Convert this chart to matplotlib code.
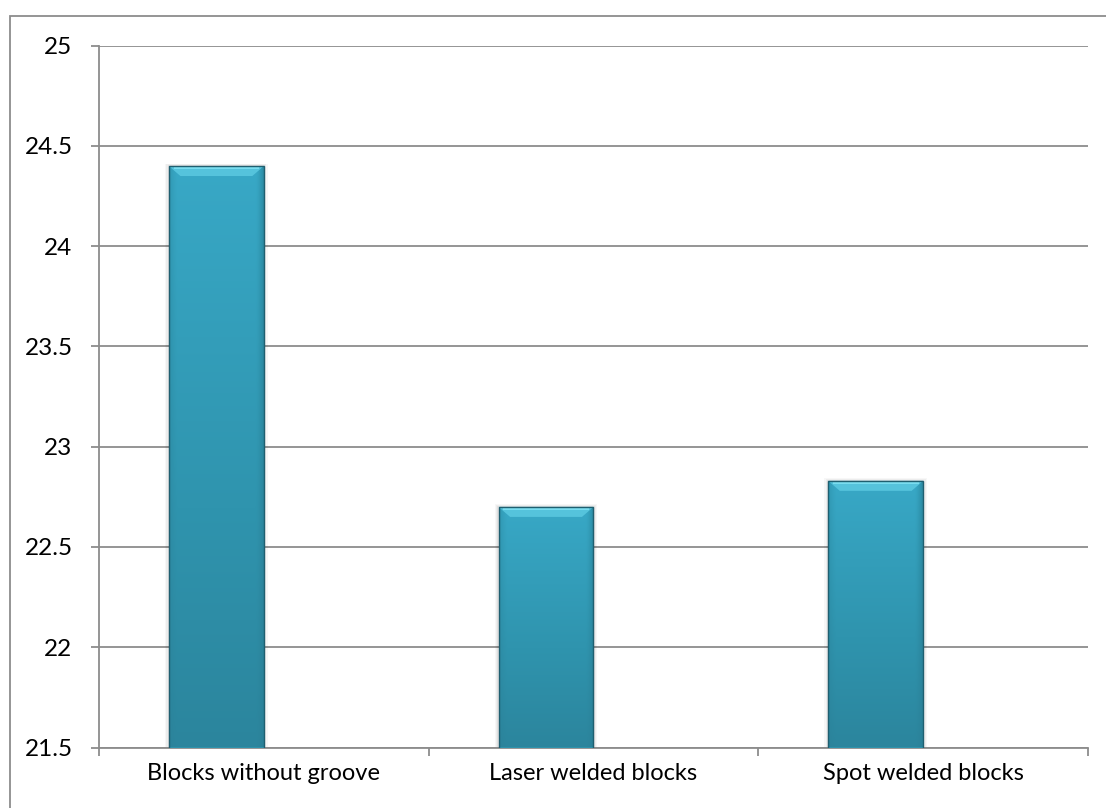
import numpy as np
import matplotlib
matplotlib.use("Agg")
import matplotlib.pyplot as plt
from matplotlib.patches import Rectangle, Polygon
from matplotlib.colors import LinearSegmentedColormap

categories = ["Blocks without groove", "Laser welded blocks", "Spot welded blocks"]
values = [24.40, 22.70, 22.83]
y_ticks = [21.5, 22, 22.5, 23, 23.5, 24, 24.5, 25]

plt.rcParams["font.family"] = ["Lato", "DejaVu Sans"]

W, H = 1106, 808
fig = plt.figure(figsize=(W / 100, H / 100), dpi=100)
fig.patch.set_facecolor("white")

# chart-area border
fig.patches.append(Rectangle((10 / W, -0.1), 1.2, 1 - 16 / H + 0.1,
                             transform=fig.transFigure, fill=False,
                             edgecolor="#8c8c8c", linewidth=1.3, zorder=0))

left, right, top, bottom = 99 / W, 1088 / W, 45.7 / H, 747.5 / H
ax = fig.add_axes([left, 1 - bottom, right - left, bottom - top])

ax.set_ylim(21.5, 25)
ax.set_xlim(-0.5, len(categories) - 0.5)
ax.set_yticks(y_ticks)
ax.set_yticklabels([f"{t:g}" for t in y_ticks])
ax.yaxis.grid(True, color="#8c8c8c", linewidth=1.3)
ax.set_axisbelow(True)

for s in ("top", "right"):
    ax.spines[s].set_visible(False)
for s in ("left", "bottom"):
    ax.spines[s].set_color("#8c8c8c")
    ax.spines[s].set_linewidth(1.3)

x = np.arange(len(categories))
ax.set_xticks(np.arange(len(categories) + 1) - 0.5)
ax.set_xticklabels([])
ax.set_xticks(x, minor=True)
ax.set_xticklabels(categories, minor=True)
ax.tick_params(axis="x", which="minor", length=0, pad=11, labelsize=17)
ax.tick_params(axis="x", which="major", length=6, width=1.3, color="#8c8c8c")
ax.tick_params(axis="y", length=6, width=1.3, color="#8c8c8c", pad=13, labelsize=17.5)

bw = 0.288
bars = ax.bar(x - bw / 2, np.array(values) - 21.5, bottom=21.5, width=bw,
              color="#31a0bb", edgecolor="none", zorder=3)

# shading for each bar: vertical darkening plus darker side edges
cmap = LinearSegmentedColormap.from_list(
    "teal", ["#2a7f96", "#2f94ae", "#38a8c6"])
ny, nx = 200, 60
vy = np.linspace(0, 1, ny)[:, None]
vx = np.linspace(0, 1, nx)[None, :]
edge = np.clip(np.minimum(vx, 1 - vx) / 0.08, 0, 1) ** 0.6
right_dark = np.clip((1 - vx) / 0.06, 0, 1) ** 0.8
grad = (0.15 + 0.85 * vy) * (0.55 + 0.45 * edge) * (0.6 + 0.4 * right_dark)

for b in bars:
    bx0, by0 = b.get_x(), b.get_y()
    bwid, bh = b.get_width(), b.get_height()
    # soft shadow behind the bar
    for k, a in enumerate([0.05, 0.04, 0.03]):
        dx = 0.004 * (k + 1)
        ax.add_patch(Rectangle((bx0 - dx, by0), bwid + 2 * dx, bh + 0.004 * (k + 1),
                               facecolor="black", alpha=a, edgecolor="none", zorder=2.5))
    im = ax.imshow(grad, cmap=cmap, vmin=0, vmax=1, origin="lower", aspect="auto",
                   extent=(bx0, bx0 + bwid, by0, by0 + bh), zorder=3.2,
                   interpolation="bilinear")
    im.set_clip_path(b)
    # bevelled top
    bev_y = 0.05
    bev_x = 0.035
    ytop = by0 + bh
    ax.add_patch(Polygon([(bx0, ytop), (bx0 + bwid, ytop),
                          (bx0 + bwid - bev_x, ytop - bev_y), (bx0 + bev_x, ytop - bev_y)],
                         closed=True, facecolor="#55c3dc", edgecolor="none", zorder=3.4))
    ax.add_patch(Rectangle((bx0 + bev_x * 0.4, ytop - 0.014), bwid - bev_x * 0.8, 0.009,
                           facecolor="#80e2f4", edgecolor="none", alpha=0.85, zorder=3.5))
    ax.add_patch(Rectangle((bx0, by0), bwid, bh, fill=False,
                           edgecolor="#1f5f70", linewidth=1.0, zorder=3.6))

ax.set_xlim(-0.5, len(categories) - 0.5)
ax.set_ylim(21.5, 25)

fig.savefig("out.png", dpi=100, facecolor="white")
